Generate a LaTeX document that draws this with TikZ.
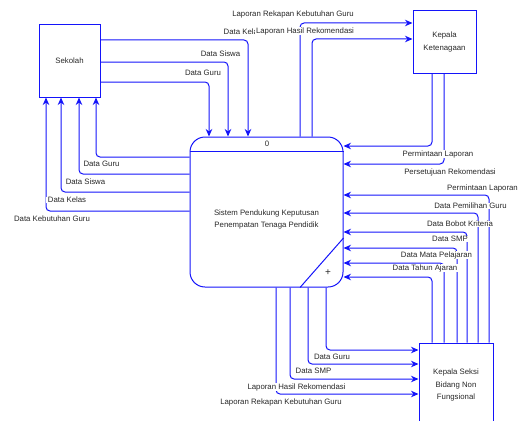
\documentclass[tikz,border=0pt]{standalone}
\usepackage{fontspec}
\setmainfont{Liberation Sans}
\usetikzlibrary{arrows.meta}
\definecolor{dfdblue}{RGB}{20,20,250}
\definecolor{dfdtext}{RGB}{40,40,40}
\newcommand{\dfdfont}{\fontsize{7.8}{12.5}\selectfont}
\tikzstyle{flow} = [draw=dfdblue, line width=1pt, rounded corners=4pt, -{Stealth[length=7.5pt,width=6.5pt]}]
\tikzstyle{entity} = [draw=dfdblue, line width=1pt, rectangle, align=center, text=dfdtext, font=\dfdfont]
\tikzstyle{lbl} = [fill=white, inner xsep=1.5pt, inner ysep=0.6pt, text=dfdtext, font=\dfdfont]

\begin{document}
\begin{tikzpicture}[x=1pt, y=-1pt]
\useasboundingbox (0,0) rectangle (521,420);

% External entities
\node[entity, minimum width=61pt, minimum height=72pt] (sek) at (69.5,61) {Sekolah};
\node[entity, minimum width=63pt, minimum height=62pt] (kk) at (444.5,42) {Kepala\\Ketenagaan};
\node[entity, minimum width=74pt, minimum height=84pt] (ks) at (456,385) {Kepala Seksi\\Bidang Non\\Fungsional};

% Process
\node[draw=dfdblue, line width=1pt, rounded corners=15pt, minimum width=153pt, minimum height=150pt] (proc) at (266.5,212) {};
\draw[dfdblue, line width=1pt] (proc.west |- 0,151) -- (proc.east |- 0,151);
\draw[dfdblue, line width=1pt] (proc.east |- 0,238) -- (proc.south -| 300,0);
\node[text=dfdtext, font=\dfdfont] (pnum) at (267,144) {0};
\node[text=dfdtext, font=\dfdfont, align=center] (pname) at (266.5,219.5) {Sistem Pendukung Keputusan\\Penempatan Tenaga Pendidik};
\node[text=dfdtext, font=\fontsize{10}{12}\selectfont] (pplus) at (328,273) {+};

% Sekolah -> process
\draw[flow] (sek.east |- 0,40) -| (proc.north -| 248,0);
\draw[flow] (sek.east |- 0,62) -| (proc.north -| 228,0);
\draw[flow] (sek.east |- 0,82) -| (proc.north -| 209,0);

% process -> Sekolah
\draw[flow] (proc.west |- 0,157) -| (sek.south -| 96,0);
\draw[flow] (proc.west |- 0,174) -| (sek.south -| 79,0);
\draw[flow] (proc.west |- 0,192) -| (sek.south -| 61,0);
\draw[flow] (proc.west |- 0,211) -| (sek.south -| 46,0);

% process <-> Kepala Ketenagaan
\draw[flow] (proc.north -| 300,0) |- (kk.west |- 0,23);
\draw[flow] (proc.north -| 312,0) |- (kk.west |- 0,39);
\draw[flow] (kk.south -| 432,0) |- (proc.east |- 0,146);
\draw[flow] (kk.south -| 444,0) |- (proc.east |- 0,164);

% Kepala Seksi -> process
\draw[flow] (ks.north -| 489,0) |- (proc.east |- 0,195);
\draw[flow] (ks.north -| 478,0) |- (proc.east |- 0,213);
\draw[flow] (ks.north -| 467,0) |- (proc.east |- 0,232);
\draw[flow] (ks.north -| 457,0) |- (proc.east |- 0,248);
\draw[flow] (ks.north -| 444,0) |- (proc.east |- 0,263);
\draw[flow] (ks.north -| 432,0) |- (proc.east |- 0,277);

% process -> Kepala Seksi
\draw[flow] (proc.south -| 326,0) |- (ks.west |- 0,350);
\draw[flow] (proc.south -| 308,0) |- (ks.west |- 0,364);
\draw[flow] (proc.south -| 290,0) |- (ks.west |- 0,379);
\draw[flow] (proc.south -| 276,0) |- (ks.west |- 0,394);

% Labels
\node[lbl, anchor=west] (l1) at (222,32) {Data Kelas};
\node[lbl] (l2) at (220.5,54) {Data Siswa};
\node[lbl] (l3) at (203,73) {Data Guru};
\node[lbl] (l4) at (101.5,164) {Data Guru};
\node[lbl] (l5) at (85.5,182) {Data Siswa};
\node[lbl] (l6) at (67,200) {Data Kelas};
\node[lbl] (l7) at (52,219) {Data Kebutuhan Guru};
\node[lbl] (l8) at (293,14) {Laporan Rekapan Kebutuhan Guru};
\node[lbl] (l9) at (305,31) {Laporan Hasil Rekomendasi};
\node[lbl] (l10) at (438,154) {Permintaan Laporan};
\node[lbl] (l11) at (450,172) {Persetujuan Rekomendasi};
\node[lbl] (l12) at (482.5,188) {Permintaan Laporan};
\node[lbl] (l13) at (470.5,206) {Data Pemilihan Guru};
\node[lbl] (l14) at (460,224) {Data Bobot Kriteria};
\node[lbl] (l15) at (450,239) {Data SMP};
\node[lbl] (l16) at (436.5,255) {Data Mata Pelajaran};
\node[lbl] (l17) at (425,268) {Data Tahun Ajaran};
\node[lbl] (l18) at (332,357) {Data Guru};
\node[lbl] (l19) at (313.5,371) {Data SMP};
\node[lbl] (l20) at (296.5,387) {Laporan Hasil Rekomendasi};
\node[lbl] (l21) at (281,402) {Laporan Rekapan Kebutuhan Guru};
\end{tikzpicture}
\end{document}
